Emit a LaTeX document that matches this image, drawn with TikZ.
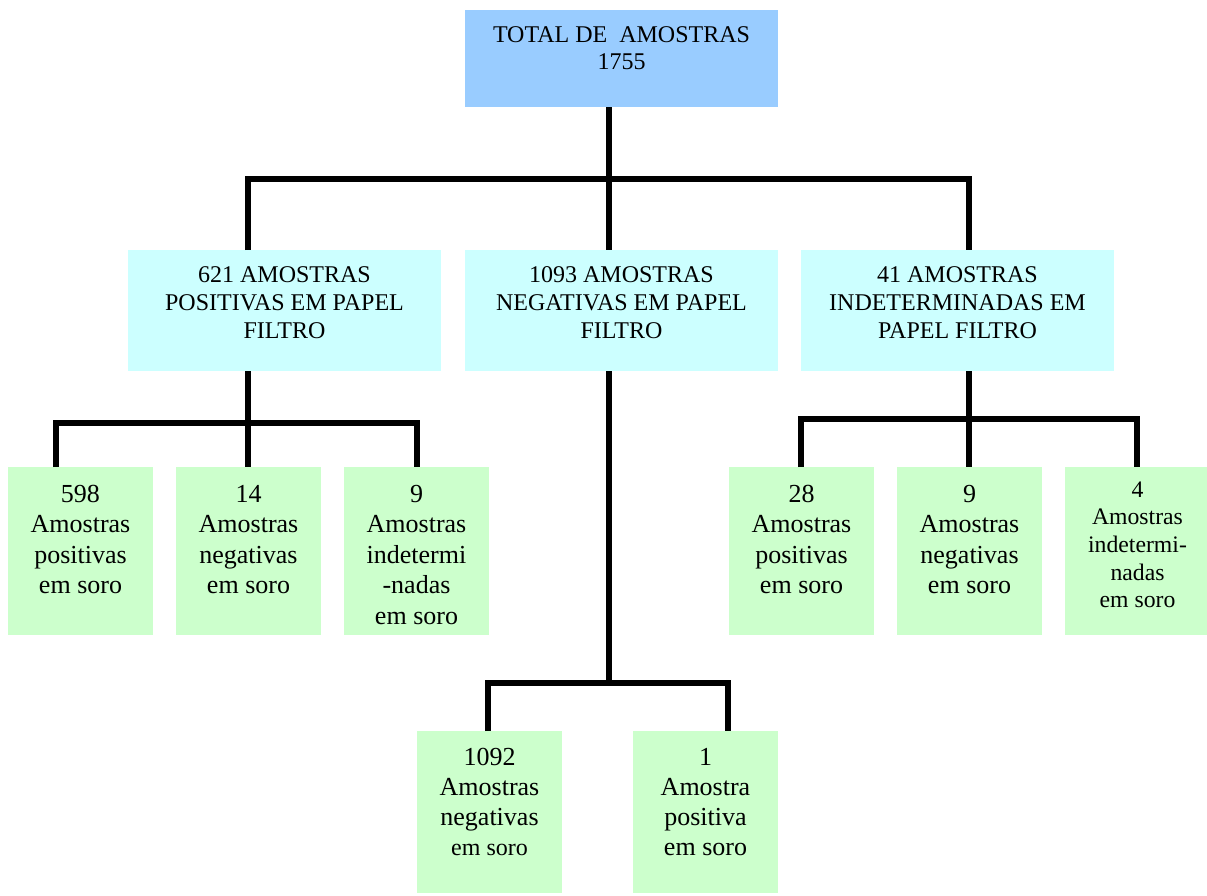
\documentclass[tikz,border=0pt]{standalone}
\usepackage{fontspec}
\setmainfont{Liberation Serif}
\definecolor{topblue}{HTML}{99CCFF}
\definecolor{cyanbox}{HTML}{CCFFFF}
\definecolor{greenbox}{HTML}{CCFFCC}
\newcommand\boxtxt[6]{\parbox[c][#1pt][t]{#2pt}{\centering\fontsize{#3pt}{#4pt}\selectfont\rule{0pt}{#5pt}#6\par}}
\begin{document}
\begin{tikzpicture}[x=1pt,y=-1pt,
  boxnode/.style={anchor=north west, inner sep=0pt, outer sep=0pt},
  conn/.style={line width=5.5pt, black, line join=miter}]
\useasboundingbox (0,0) rectangle (1207,895);
% level 1
\node[boxnode, fill=topblue] (top) at (465,10) {\boxtxt{97}{313}{24}{27}{32}{TOTAL DE\ \ AMOSTRAS\\1755}};
% level 2
\node[boxnode, fill=cyanbox] (lp) at (128,250) {\boxtxt{121}{313}{24}{28}{32}{621 AMOSTRAS\\POSITIVAS EM PAPEL\\FILTRO}};
\node[boxnode, fill=cyanbox] (mp) at (465,250) {\boxtxt{121}{313}{24}{28}{32}{1093 AMOSTRAS\\NEGATIVAS EM PAPEL\\FILTRO}};
\node[boxnode, fill=cyanbox] (rp) at (801,250) {\boxtxt{121}{313}{24}{28}{32}{41 AMOSTRAS\\INDETERMINADAS EM\\PAPEL FILTRO}};
% level 3 left
\node[boxnode, fill=greenbox] (g1) at (8,467) {\boxtxt{168}{145}{26}{30.5}{35}{598\\Amostras\\positivas\\em soro}};
\node[boxnode, fill=greenbox] (g2) at (176,467) {\boxtxt{168}{145}{26}{30.5}{35}{14\\Amostras\\negativas\\em soro}};
\node[boxnode, fill=greenbox] (g3) at (344,467) {\boxtxt{168}{145}{26}{30.5}{35}{9\\Amostras\\indetermi\\-nadas\\em soro}};
% level 3 right
\node[boxnode, fill=greenbox] (h1) at (729,467) {\boxtxt{168}{145}{26}{30.5}{35}{28\\Amostras\\positivas\\em soro}};
\node[boxnode, fill=greenbox] (h2) at (897,467) {\boxtxt{168}{145}{26}{30.5}{35}{9\\Amostras\\negativas\\em soro}};
\node[boxnode, fill=greenbox] (h3) at (1065,467) {\boxtxt{168}{145}{23.7}{27.7}{30}{4\\Amostras\\indetermi-\\nadas\\em soro}};
% level 3 middle
\node[boxnode, fill=greenbox] (b1) at (417,731) {\boxtxt{162}{145}{26}{30}{34}{1092\\Amostras\\negativas\\{\fontsize{24pt}{30pt}\selectfont em soro}}};
\node[boxnode, fill=greenbox] (b2) at (633,731) {\boxtxt{162}{145}{26}{30}{34}{1\\Amostra\\positiva\\em soro}};
% junction points
\coordinate (t0) at (609,179);
\coordinate (t1) at (248,179);
\coordinate (t3) at (969,179);
\coordinate (la) at (56,423);
\coordinate (lb) at (248,423);
\coordinate (lc) at (417,423);
\coordinate (ra) at (801,419);
\coordinate (rb) at (969,419);
\coordinate (rc) at (1137,419);
\coordinate (ma) at (488,683);
\coordinate (mb) at (609,683);
\coordinate (mc) at (728,683);
% connectors
\draw[conn] (t0 |- top.south) -- (t0 |- mp.north);
\draw[conn] (t1 |- lp.north) -- (t1) -- (t3) -- (t3 |- rp.north);
\draw[conn] (lb |- lp.south) -- (lb |- g2.north);
\draw[conn] (la |- g1.north) -- (la) -- (lc) -- (lc |- g3.north);
\draw[conn] (rb |- rp.south) -- (rb |- h2.north);
\draw[conn] (ra |- h1.north) -- (ra) -- (rc) -- (rc |- h3.north);
\draw[conn] (mb |- mp.south) -- (mb);
\draw[conn] (ma |- b1.north) -- (ma) -- (mc) -- (mc |- b2.north);
\end{tikzpicture}
\end{document}
